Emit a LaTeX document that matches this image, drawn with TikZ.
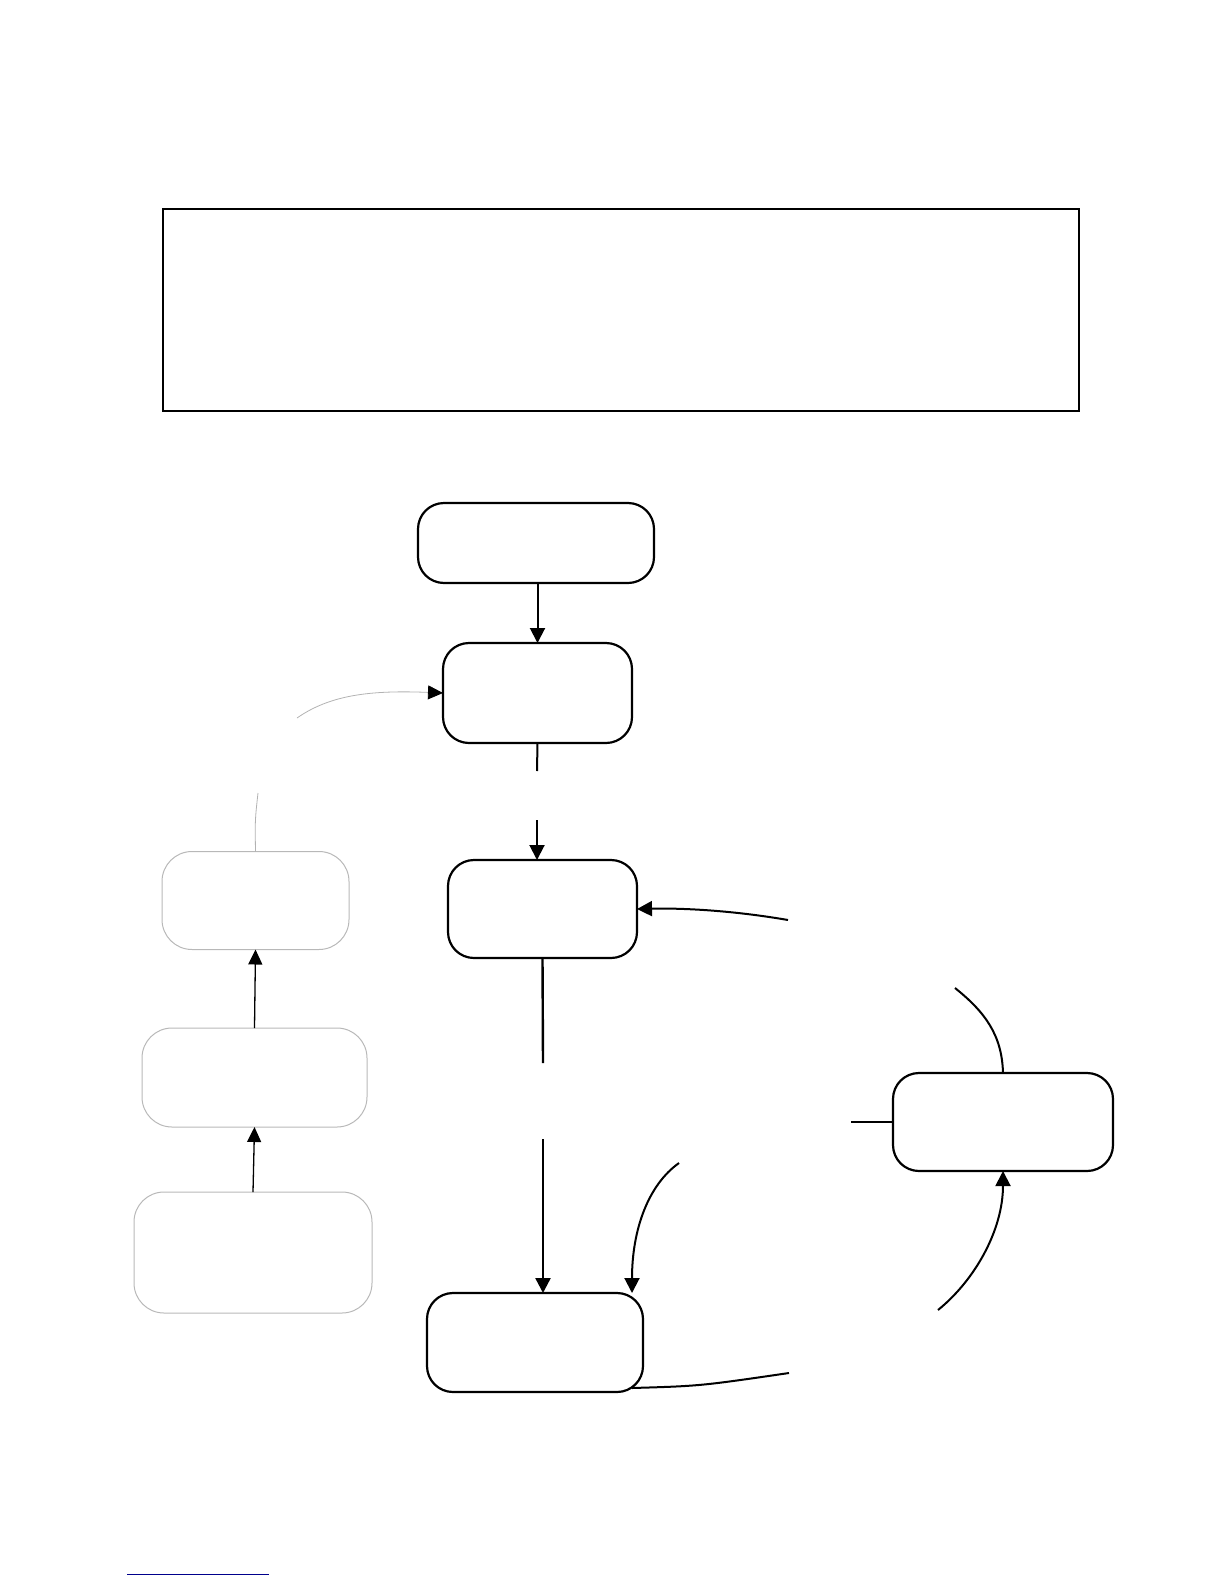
\documentclass[tikz,border=0pt]{standalone}
\usetikzlibrary{arrows.meta}
\begin{document}
\begin{tikzpicture}[x=1pt,y=-1pt,
  box/.style={draw=black,line width=2.2pt,rounded corners=26pt,inner sep=0pt,outer sep=0pt},
  gbox/.style={draw=black!28,line width=1pt,rounded corners=30pt,inner sep=0pt,outer sep=0pt},
  conn/.style={line width=2pt},
  arr/.style={conn,-{Triangle[length=15pt,width=15pt]}},
  thinarr/.style={line width=1.3pt,-{Triangle[length=15pt,width=14pt]}},
  gconn/.style={draw=black!30,line width=0.8pt}]
\useasboundingbox (0,0) rectangle (1224,1584);
% top frame
\node[draw,line width=2pt,minimum width=916pt,minimum height=202pt,inner sep=0pt,outer sep=0pt] (frame) at (621,310) {};
% central boxes
\node[box,minimum width=236pt,minimum height=80pt] (A) at (536,543) {};
\node[box,minimum width=189pt,minimum height=100pt] (B) at (537.5,693) {};
\node[box,minimum width=189pt,minimum height=98pt] (C) at (542.5,909) {};
\node[box,minimum width=216pt,minimum height=99pt] (D) at (535,1342.5) {};
\node[box,minimum width=220pt,minimum height=98pt] (E) at (1003,1122) {};
% grey boxes
\node[gbox,minimum width=187pt,minimum height=98pt] (F) at (255.5,900.5) {};
\node[gbox,minimum width=225pt,minimum height=99pt] (G) at (254.5,1077.5) {};
\node[gbox,minimum width=238pt,minimum height=121pt] (H) at (253,1252.5) {};
% coordinates of free ends
\coordinate (b1) at (537,771);
\coordinate (c0) at (537,820);
\coordinate (c1) at (543,1063);
\coordinate (d0) at (543,1139);
\coordinate (r1) at (788,920);
\coordinate (d1) at (679,1163);
\coordinate (d2) at (789,1373);
\coordinate (e1) at (851,1122);
\coordinate (e2) at (955,988);
\coordinate (e3) at (938,1310);
\coordinate (g1) at (258,793);
\coordinate (g2) at (297,718);
% connectors
\draw[arr] (B.north |- A.south) -- (B.north);
\draw[conn] (B.south) -- (b1);
\draw[arr] (c0) -- (c0 |- C.north);
\draw[conn,line width=2.4pt] (C.south) -- (c1);
\draw[arr,line width=2.4pt] (d0) -- (d0 |- D.north);
\draw[arr] (r1) .. controls (730,910) and (680,908) .. (C.east);
\draw[arr] (d1) .. controls (648,1185) and (632,1230) .. ([xshift=97pt]D.north);
\draw[conn] ([xshift=97pt,yshift=4pt]D.south) .. controls (700,1386) .. (d2);
\draw[conn] (e1) -- (E.west);
\draw[conn] (E.north) .. controls (1002,1035) and (985,1012) .. (e2);
\draw[arr] (e3) .. controls (975,1280) and (1003,1230) .. (E.south);
\draw[gconn] (F.north) .. controls (255,820) .. (g1);
\draw[gconn,-{Triangle[length=15pt,width=14pt,color=black]}] (g2) .. controls (330,695) and (370,690) .. (B.west);
\draw[thinarr] (G.north) -- (F.south);
\draw[thinarr] (H.north) -- (G.south);
% footnote rule
\draw[line width=1pt,color={rgb,255:red,0;green,0;blue,140}] (127,1574) -- (269,1574);
\end{tikzpicture}
\end{document}
